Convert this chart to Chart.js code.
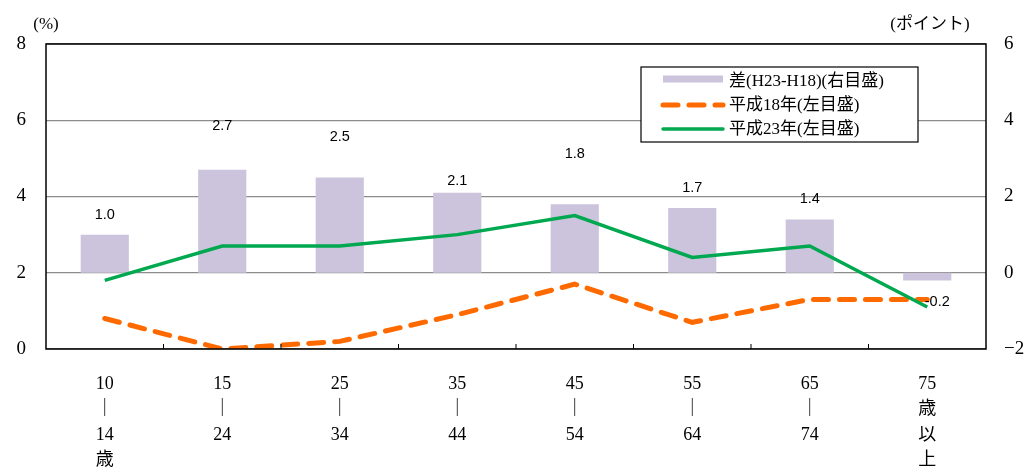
<!DOCTYPE html>
<html>
<head>
<meta charset="utf-8">
<script src="https://cdn.jsdelivr.net/npm/chart.js@4"></script>
<style>
  body { margin: 0; background: #fff; }
  #wrap { width: 1033px; height: 468px; }
</style>
</head>
<body>
<div id="wrap"><canvas id="chart"></canvas></div>
<script>
// age groups
let ageLabels = [
  ["10", "｜", "14", "歳"],
  ["15", "｜", "24"],
  ["25", "｜", "34"],
  ["35", "｜", "44"],
  ["45", "｜", "54"],
  ["55", "｜", "64"],
  ["65", "｜", "74"],
  ["75", "歳", "以", "上"]
];
let diffValues = [1.0, 2.7, 2.5, 2.1, 1.8, 1.7, 1.4, -0.2];   // 差 (右目盛)
let h18Values = [0.8, 0.0, 0.2, 0.9, 1.7, 0.7, 1.3, 1.3];     // 平成18年
let h23Values = [1.8, 2.7, 2.7, 3.0, 3.5, 2.4, 2.7, 1.1];     // 平成23年
let leftTicks = [0, 2, 4, 6, 8];
let rightTicks = [-2, 0, 2, 4, 6];

const serif = '"Liberation Serif", "DejaVu Serif", "Noto Sans CJK JP", serif';
const sans = '"Liberation Sans", Arial, "Noto Sans CJK JP", sans-serif';
const jp = '"Liberation Serif", "Noto Sans CJK JP", serif';

// labels above the bars, nudged like the original
let labelLift = [20, 44, 40, 12, 50, 20, 20];

const extras = {
  id: 'extras',
  afterDraw(chart) {
    const ctx = chart.ctx;
    const area = chart.chartArea;
    const x = chart.scales.x;
    const yR = chart.scales.y1;
    ctx.save();

    // plot frame
    ctx.strokeStyle = '#000';
    ctx.lineWidth = 1.5;
    ctx.strokeRect(area.left, area.top, area.right - area.left, area.bottom - area.top);

    // small inner ticks between categories
    ctx.lineWidth = 1;
    for (let i = 1; i < ageLabels.length; i++) {
      let px = (x.getPixelForTick(i - 1) + x.getPixelForTick(i)) / 2;
      ctx.beginPath();
      ctx.moveTo(px, area.bottom);
      ctx.lineTo(px, area.bottom - 5);
      ctx.stroke();
    }

    // bar value labels
    ctx.fillStyle = '#000';
    ctx.font = '14.5px ' + sans;
    ctx.textAlign = 'center';
    ctx.textBaseline = 'middle';
    diffValues.forEach((v, i) => {
      let px = x.getPixelForTick(i);
      if (v >= 0) {
        ctx.fillText(v.toFixed(1), px, yR.getPixelForValue(v) - labelLift[i]);
      } else {
        ctx.fillText(v.toFixed(1), px + 10, yR.getPixelForValue(v) + 22);
      }
    });

    // unit labels
    ctx.font = '17px ' + jp;
    ctx.fillText('(%)', 46, 25);
    ctx.fillText('(ポイント)', 930, 25);

    // legend box
    const lx = 641, ly = 67, lw = 277, lh = 75;
    ctx.fillStyle = '#fff';
    ctx.fillRect(lx, ly, lw, lh);
    ctx.strokeStyle = '#000';
    ctx.lineWidth = 1.2;
    ctx.strokeRect(lx, ly, lw, lh);
    chart.data.datasets.forEach((ds, i) => {
      let cy = ly + 14 + i * 24;
      ctx.save();
      ctx.beginPath();
      if (ds.type === 'bar') {
        ctx.strokeStyle = ds.backgroundColor;
        ctx.lineWidth = 7;
        ctx.lineCap = 'butt';
        ctx.moveTo(lx + 22, cy - 2);
        ctx.lineTo(lx + 82, cy - 2);
      } else {
        ctx.strokeStyle = ds.borderColor;
        ctx.lineWidth = ds.borderWidth;
        ctx.lineCap = 'round';
        ctx.setLineDash(ds.borderDash || []);
        ctx.moveTo(lx + 22, cy);
        ctx.lineTo(lx + 82, cy);
      }
      ctx.stroke();
      ctx.restore();
      ctx.fillStyle = '#000';
      ctx.font = '17px ' + jp;
      ctx.textAlign = 'left';
      ctx.textBaseline = 'middle';
      ctx.fillText(ds.label, lx + 88, cy + 1);
    });
    ctx.restore();
  }
};

new Chart(document.getElementById('chart'), {
  type: 'bar',
  data: {
    labels: ageLabels,
    datasets: [
      {
        type: 'bar',
        label: '差(H23-H18)(右目盛)',
        data: diffValues,
        yAxisID: 'y1',
        backgroundColor: '#CCC3DC',
        barPercentage: 0.41,
        categoryPercentage: 1,
        order: 3
      },
      {
        type: 'line',
        label: '平成18年(左目盛)',
        data: h18Values,
        yAxisID: 'y',
        borderColor: '#FF6A00',
        borderWidth: 5,
        borderDash: [15, 11],
        borderCapStyle: 'round',
        pointRadius: 0,
        tension: 0,
        order: 2
      },
      {
        type: 'line',
        label: '平成23年(左目盛)',
        data: h23Values,
        yAxisID: 'y',
        borderColor: '#00A84F',
        borderWidth: 3.5,
        pointRadius: 0,
        tension: 0,
        order: 1
      }
    ]
  },
  options: {
    responsive: true,
    maintainAspectRatio: false,
    animation: false,
    layout: { padding: { top: 44, left: 0, right: 0, bottom: 0 } },
    plugins: {
      legend: { display: false },
      tooltip: { enabled: false }
    },
    scales: {
      x: {
        grid: { display: false },
        border: { display: false },
        ticks: {
          color: '#000',
          font: { family: jp, size: 18, lineHeight: 1.42 },
          maxRotation: 0,
          padding: 14
        },
        afterFit(scale) { scale.height = 119; }
      },
      y: {
        position: 'left',
        min: 0,
        max: 8,
        afterBuildTicks(scale) { scale.ticks = leftTicks.map(v => ({ value: v })); },
        grid: { color: '#8c8c8c', lineWidth: 1.2, drawTicks: false },
        border: { display: false },
        ticks: {
          color: '#000',
          font: { family: serif, size: 19 },
          padding: 20
        },
        afterFit(scale) { scale.width = 46; }
      },
      y1: {
        position: 'right',
        min: -2,
        max: 6,
        afterBuildTicks(scale) { scale.ticks = rightTicks.map(v => ({ value: v })); },
        grid: { display: false, drawTicks: false },
        border: { display: false },
        ticks: {
          color: '#000',
          font: { family: serif, size: 19 },
          padding: 18,
          callback: v => (v < 0 ? '−' + Math.abs(v) : v)
        },
        afterFit(scale) { scale.width = 47; }
      }
    }
  },
  plugins: [extras]
});
</script>
</body>
</html>
